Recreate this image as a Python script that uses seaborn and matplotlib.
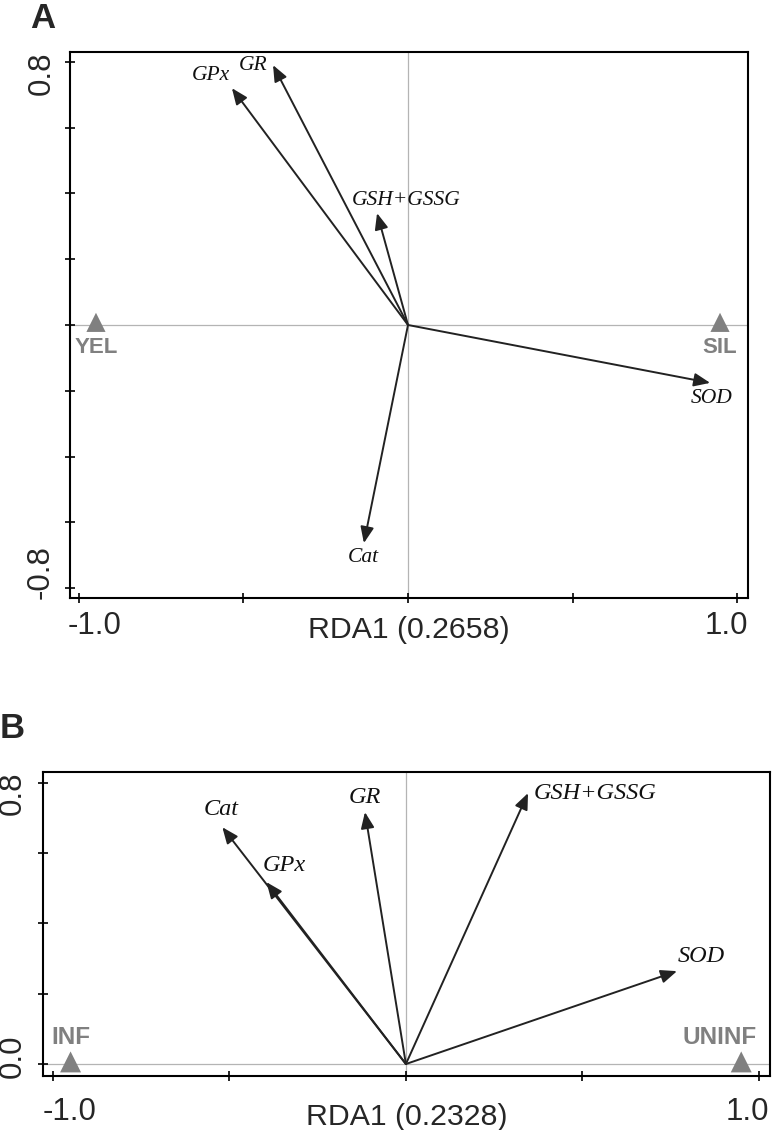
import matplotlib
matplotlib.use('Agg')
import matplotlib.pyplot as plt
import seaborn as sns
import pandas as pd

# --- panel A data (RDA biplot, site scores + enzyme vectors)
a_vars = ["GPx", "GR", "GSH+GSSG", "SOD", "Cat"]
a_rda1 = [-0.535, -0.41, -0.094, 0.918, -0.134]
a_rda2 = [0.72, 0.79, 0.34, -0.176, -0.663]
a_sites = ["YEL", "SIL"]
a_site_x = [-0.948, 0.948]
a_site_y = [0.008, 0.008]
a_xlabel = "RDA1 (0.2658)"

# --- panel B data
b_vars = ["Cat", "GPx", "GR", "GSH+GSSG", "SOD"]
b_rda1 = [-0.52, -0.395, -0.116, 0.346, 0.768]
b_rda2 = [0.673, 0.517, 0.716, 0.77, 0.264]
b_sites = ["INF", "UNINF"]
b_site_x = [-0.95, 0.95]
b_site_y = [0.006, 0.006]
b_xlabel = "RDA1 (0.2328)"

sns.set_style("white")
plt.rcParams['font.family'] = ['Liberation Sans', 'DejaVu Sans']

fig = plt.figure(figsize=(7.74, 11.3), dpi=100)
axA = fig.add_axes([0.0904, 0.4708, 0.876, 0.4832])
axB = fig.add_axes([0.0556, 0.0478, 0.939, 0.269])

ARROW = '#222222'
SITE = '#808080'
PX = 0.72  # pixels -> points at 100 dpi
TICK_FS = 22.5


def draw_panel(ax, names, xs, ys, sites, sx, sy, xlim, ylim, yticks,
               var_offsets, site_offsets, label_size, site_size, marker_s,
               xt_off, yt_off, xlabel, xlabel_y):
    ax.set_xlim(*xlim)
    ax.set_ylim(*ylim)
    ax.axhline(0, color='#b4b4b4', lw=0.9, zorder=0)
    ax.axvline(0, color='#b4b4b4', lw=0.9, zorder=0)

    # enzyme vectors
    for name, x, y in zip(names, xs, ys):
        ax.annotate("", xy=(x, y), xytext=(0, 0),
                    arrowprops=dict(arrowstyle='-|>,head_length=0.65,head_width=0.27',
                                    color=ARROW, lw=1.4, mutation_scale=15,
                                    shrinkA=0, shrinkB=0))
        dx, dy, ha = var_offsets[name]
        ax.annotate(name, xy=(x, y), xytext=(dx * PX, dy * PX),
                    textcoords='offset points', ha=ha, va='center',
                    fontsize=label_size, style='italic', color='#111111',
                    family=['Liberation Serif', 'DejaVu Serif'])

    # site scores
    df = pd.DataFrame({"x": sx, "y": sy, "site": sites})
    sns.scatterplot(data=df, x="x", y="y", marker='^', s=marker_s,
                    color=SITE, edgecolor='none', ax=ax, legend=False, zorder=3)
    for name, x, y in zip(sites, sx, sy):
        dx, dy = site_offsets[name]
        ax.annotate(name, xy=(x, y), xytext=(dx * PX, dy * PX),
                    textcoords='offset points', ha='center', va='center',
                    fontsize=site_size, fontweight='bold', color=SITE)

    # ticks: only the end values carry labels
    ax.set_xticks([-1.0, -0.5, 0.0, 0.5, 1.0])
    ax.set_yticks(yticks)
    ax.set_xticklabels([])
    ax.set_yticklabels([])
    ax.tick_params(axis='both', direction='inout', length=7, width=1.2,
                   color='black', bottom=True, left=True)
    for v, off in zip([-1.0, 1.0], xt_off):
        ax.annotate(f"{v:.1f}", xy=(v, 0), xycoords=('data', 'axes fraction'),
                    xytext=(off[0] * PX, off[1] * PX), textcoords='offset points',
                    ha='center', va='center', fontsize=TICK_FS)
    for v, off in zip([yticks[-1], yticks[0]], yt_off):
        ax.annotate(f"{v:.1f}", xy=(0, v), xycoords=('axes fraction', 'data'),
                    xytext=(off[0] * PX, off[1] * PX), textcoords='offset points',
                    ha='center', va='center', fontsize=TICK_FS, rotation=90)

    ax.set_xlabel(xlabel, fontsize=21.8)
    ax.xaxis.set_label_coords(0.5, xlabel_y)
    ax.set_ylabel("")
    for sp in ax.spines.values():
        sp.set_visible(True)
        sp.set_color('black')
        sp.set_linewidth(1.5)


draw_panel(axA, a_vars, a_rda1, a_rda2, a_sites, a_site_x, a_site_y,
           xlim=(-1.027, 1.033), ylim=(-0.83, 0.83),
           yticks=[-0.8, -0.6, -0.4, -0.2, 0.0, 0.2, 0.4, 0.6, 0.8],
           var_offsets={"GR": (-6, 0, 'right'), "GPx": (-2, 13, 'right'),
                        "GSH+GSSG": (29, 13, 'center'), "SOD": (1, -16, 'center'),
                        "Cat": (-1, -14, 'center')},
           site_offsets={"YEL": (0, -25), "SIL": (0, -25)},
           label_size=15.5, site_size=16, marker_s=190,
           xt_off=[(16, -28), (-11, -28)], yt_off=[(-28, -11), (-29, 16)],
           xlabel=a_xlabel, xlabel_y=-0.033)

draw_panel(axB, b_vars, b_rda1, b_rda2, b_sites, b_site_x, b_site_y,
           xlim=(-1.028, 1.031), ylim=(-0.034, 0.83),
           yticks=[0.0, 0.2, 0.4, 0.6, 0.8],
           var_offsets={"Cat": (-1, 18, 'center'), "GPx": (18, 17, 'center'),
                        "GR": (0, 15, 'center'), "GSH+GSSG": (6, 0, 'left'),
                        "SOD": (24, 15, 'center')},
           site_offsets={"INF": (0, 24), "UNINF": (-22, 24)},
           label_size=17.5, site_size=17.5, marker_s=228,
           xt_off=[(17, -36), (-12, -36)], yt_off=[(-30, -11), (-30, 8)],
           xlabel=b_xlabel, xlabel_y=-0.088)

fig.text(30 / 774, 1 - 2 / 1130, "A", fontsize=25, fontweight='bold', va='top', ha='left')
fig.text(0 / 774, 1 - 712 / 1130, "B", fontsize=25, fontweight='bold', va='top', ha='left')

fig.savefig("out.png", dpi=100)
